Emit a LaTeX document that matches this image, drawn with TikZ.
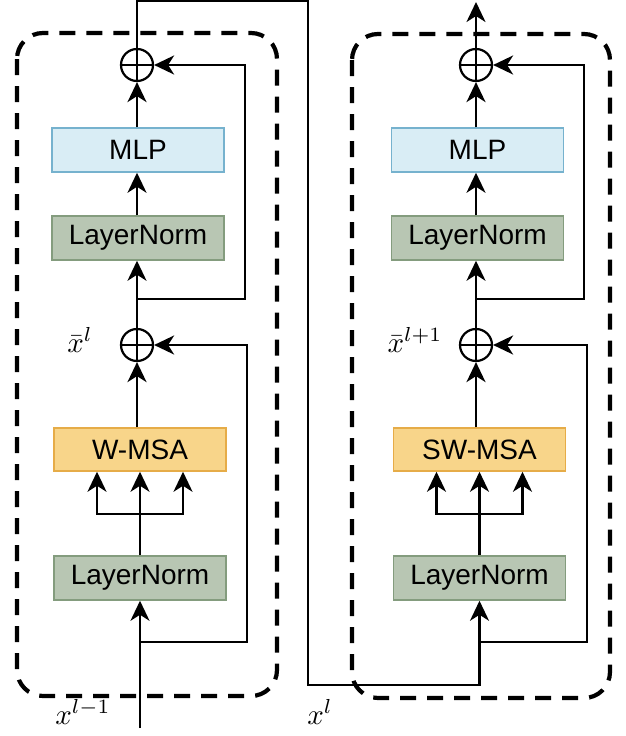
\documentclass[tikz,border=0pt]{standalone}
\usepackage{fontspec}
\setmainfont{Liberation Sans}
\usetikzlibrary{arrows.meta}
\definecolor{mlpfill}{RGB}{217,237,245}
\definecolor{mlpline}{RGB}{118,178,206}
\definecolor{lnfill}{RGB}{184,198,179}
\definecolor{lnline}{RGB}{132,156,126}
\definecolor{msafill}{RGB}{248,213,138}
\definecolor{msaline}{RGB}{230,172,72}
\newcommand{\biglbl}[1]{\scalebox{2.9}{#1}}
\begin{document}
\begin{tikzpicture}[x=1pt,y=-1pt,
  box/.style={draw, line width=1.5pt, minimum width=172pt, minimum height=44pt,
    inner sep=0pt, font=\fontsize{28}{32}\selectfont},
  mlpbox/.style={box, fill=mlpfill, draw=mlpline},
  lnbox/.style={box, fill=lnfill, draw=lnline},
  msabox/.style={box, fill=msafill, draw=msaline, minimum height=43pt},
  sum/.style={circle, draw, line width=2.2pt, minimum size=32pt, inner sep=0pt,
    path picture={\draw[line width=2.2pt]
      (path picture bounding box.north) -- (path picture bounding box.south)
      (path picture bounding box.east) -- (path picture bounding box.west);}},
  wire/.style={line width=2.3pt},
  arr/.style={wire, -{Stealth[length=20pt,width=19pt,inset=6pt]}},
  block/.style={draw, line width=4.2pt, dash pattern=on 16pt off 11pt, rounded corners=26pt},
  lbl/.style={inner sep=0pt}]
\useasboundingbox (0,0) rectangle (625,736);

% dashed outlines of the two transformer blocks
\draw[block] (17,33) rectangle (277,696);
\draw[block] (352,34) rectangle (610,698);

% ---- first block (W-MSA) ----
\node[sum] (addA2) at (137,65) {};
\node[mlpbox] (mlpA) at (138,150) {MLP};
\node[lnbox] (lnA2) at (138,238) {LayerNorm};
\node[sum] (addA1) at (137,345) {};
\node[msabox] (msaA) at (140,449.5) {W-MSA};
\node[lnbox] (lnA1) at (140,578) {LayerNorm};
\coordinate (inA) at (140,728);
\coordinate (sA1) at (140,642);
\coordinate (fA) at (140,514);
\coordinate (sA2) at (137,299);

\draw[arr] (inA) -- (lnA1.south);
\draw[arr] (sA1) -- (247,642) |- (addA1.east);
\draw[arr] (lnA1.north) -- (msaA.south);
\draw[arr] (fA) -| ([xshift=-43pt]msaA.south);
\draw[arr] (fA) -| ([xshift=43pt]msaA.south);
\draw[arr] (msaA.north -| addA1) -- (addA1.south);
\draw[arr] (addA1.north) -- (addA1.north |- lnA2.south);
\draw[arr] (sA2) -- (245,299) |- (addA2.east);
\draw[arr] (lnA2.north -| addA1) -- (addA1 |- mlpA.south);
\draw[arr] (mlpA.north -| addA2) -- (addA2.south);

% ---- second block (SW-MSA) ----
\node[sum] (addB2) at (476,65) {};
\node[mlpbox] (mlpB) at (477.5,150) {MLP};
\node[lnbox] (lnB2) at (477.5,238) {LayerNorm};
\node[sum] (addB1) at (476,345) {};
\node[msabox] (msaB) at (479.5,449.5) {SW-MSA};
\node[lnbox] (lnB1) at (479.5,578) {LayerNorm};
\coordinate (sB1) at (479.5,642);
\coordinate (fB) at (479.5,514);
\coordinate (sB2) at (476,299);
\coordinate (outB) at (476,2);

% block output x^l feeds the second block
\draw[arr] (addA2.north) |- (308,1) -- (308,685) -| (lnB1.south);
\draw[arr] (sB1) -- (587,642) |- (addB1.east);
\draw[arr] (lnB1.north) -- (msaB.south);
\draw[arr] (fB) -| ([xshift=-43pt]msaB.south);
\draw[arr] (fB) -| ([xshift=43pt]msaB.south);
\draw[arr] (msaB.north -| addB1) -- (addB1.south);
\draw[arr] (addB1.north) -- (addB1.north |- lnB2.south);
\draw[arr] (sB2) -- (584,299) |- (addB2.east);
\draw[arr] (lnB2.north -| addB1) -- (addB1 |- mlpB.south);
\draw[arr] (mlpB.north -| addB2) -- (addB2.south);
\draw[arr] (addB2.north) -- (outB);

% labels
\node[lbl] (lblA1) at (80,340) {\biglbl{$\bar{x}^{l}$}};
\node[lbl] (lblB1) at (415,340) {\biglbl{$\bar{x}^{l+1}$}};
\node[lbl] (lblIn) at (83,712) {\biglbl{$x^{l-1}$}};
\node[lbl] (lblMid) at (320,712) {\biglbl{$x^{l}$}};
\end{tikzpicture}
\end{document}
